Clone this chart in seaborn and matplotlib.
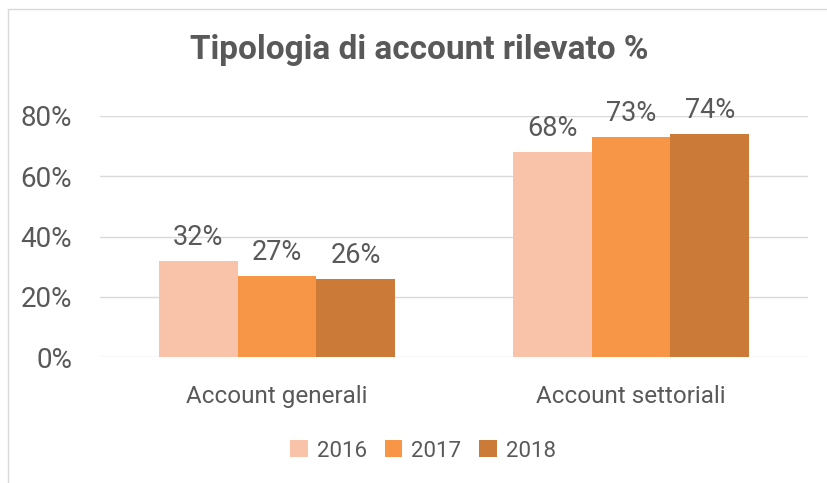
import matplotlib
matplotlib.use("Agg")
import matplotlib.pyplot as plt
import seaborn as sns
import pandas as pd
from matplotlib.patches import Rectangle
from matplotlib.ticker import FuncFormatter

categories = ["Account generali", "Account settoriali"]
years = ["2016", "2017", "2018"]
v2016 = [0.32, 0.68]
v2017 = [0.27, 0.73]
v2018 = [0.26, 0.74]
colors = ["#F8C3A8", "#F79646", "#CC7A38"]
title = "Tipologia di account rilevato %"

rows = []
for y, vals in zip(years, [v2016, v2017, v2018]):
    for c, v in zip(categories, vals):
        rows.append({"cat": c, "year": y, "val": v})
df = pd.DataFrame(rows)

sns.set_theme(style="white")
plt.rcParams['font.family'] = ['Roboto', 'DejaVu Sans']
txt = "#595959"

fig = plt.figure(figsize=(8.27, 4.83), dpi=100)
ax = fig.add_axes([100/827, 1-357/483, 708/827, (357-116)/483])

sns.barplot(data=df, x="cat", y="val", hue="year", palette=colors,
            width=0.668, gap=0, ax=ax, saturation=1, legend=True,
            linewidth=0)

ax.set_ylim(0, 0.8)
ax.set_xlim(-0.5, 1.5)
ax.set_yticks([0, 0.2, 0.4, 0.6, 0.8])
ax.yaxis.set_major_formatter(FuncFormatter(lambda v, p: f"{v*100:.0f}%"))
ax.grid(axis="y", color="#D9D9D9", linewidth=1)
ax.set_axisbelow(True)
for s in ax.spines.values():
    s.set_visible(False)
ax.tick_params(axis="y", length=0, pad=20, labelsize=20, labelcolor=txt)
ax.tick_params(axis="x", length=0, pad=20, labelsize=17.5, labelcolor=txt)
ax.set_xlabel("")
ax.set_ylabel("")

for cont in ax.containers:
    ax.bar_label(cont, labels=[f"{v*100:.0f}%" for v in cont.datavalues],
                 padding=7, fontsize=19.5, color=txt)

fig.text(419/827, 1-50/483, title, ha="center", va="center",
         fontsize=24, fontweight="bold", color=txt)

leg = ax.legend(loc="center", bbox_to_anchor=(423/827, 1-451/483),
                bbox_transform=fig.transFigure, ncol=3, frameon=False,
                fontsize=16, handlelength=0.8, handleheight=0.8,
                handletextpad=0.4, columnspacing=0.8)
for t in leg.get_texts():
    t.set_color(txt)

fig.patches.append(Rectangle((8/827, -0.1), 1.2, 1 - 9/483 + 0.1,
                             transform=fig.transFigure, fill=False,
                             edgecolor="#D9D9D9", linewidth=1))

fig.savefig("out.png", dpi=100)
